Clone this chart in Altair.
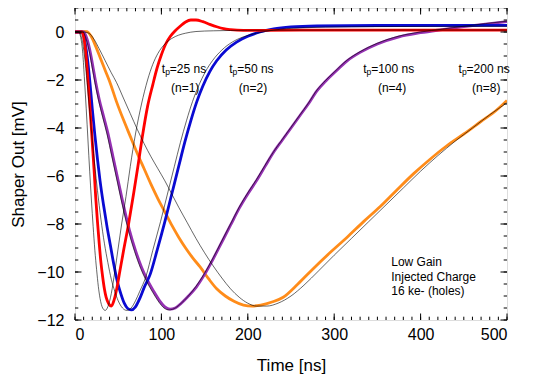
import altair as alt
import pandas as pd

# ---------------- data ----------------
# measured curves (thick, coloured)
RED_T = [0, 8, 10, 12, 14, 16, 18, 20, 22, 24, 26, 28, 30, 32, 34, 36, 39, 42, 45, 48, 52, 56, 62, 68, 73, 78, 84, 90, 95, 100, 105, 110, 116, 122, 128, 134, 140, 148, 156, 164, 172, 180, 195, 220, 300, 400, 500]
RED_V = [0, 0, -0.2, -0.7, -1.5, -2.5, -3.5, -4.6, -5.7, -6.9, -7.9, -8.8, -9.6, -10.2, -10.7, -11.05, -11.32, -11.42, -11.2, -10.75, -9.95, -9.15, -8.0, -6.7, -5.55, -4.35, -3.1, -2.2, -1.5, -0.95, -0.5, -0.2, 0.05, 0.25, 0.42, 0.5, 0.5, 0.43, 0.32, 0.22, 0.14, 0.1, 0.07, 0.07, 0.08, 0.08, 0.08]

BLUE_T = [0, 8, 11, 14, 17, 20, 23, 26, 29, 33, 37, 41, 45, 49, 53, 57, 61, 65, 70, 75, 80, 87, 95, 104, 112, 120, 127, 134, 141, 148, 156, 164, 175, 187, 200, 214, 230, 250, 280, 350, 500]
BLUE_V = [0, 0, -0.3, -1.0, -2.0, -3.2, -4.3, -5.3, -6.2, -7.2, -8.1, -8.9, -9.7, -10.4, -10.9, -11.3, -11.52, -11.58, -11.45, -11.1, -10.65, -10.1, -9.1, -7.9, -6.75, -5.6, -4.6, -3.7, -2.9, -2.25, -1.65, -1.2, -0.75, -0.42, -0.18, 0.0, 0.13, 0.21, 0.25, 0.27, 0.28]

PURPLE_T = [0, 10, 14, 18, 21, 24, 28, 33, 38, 44, 50, 56, 63, 70, 77, 84, 91, 98, 104, 110, 116, 123, 130, 140, 150, 160, 170, 180, 190, 200, 210, 220, 230, 240, 250, 260, 270, 280, 290, 300, 315, 330, 350, 375, 400, 425, 450, 475, 500]
PURPLE_V = [0, 0, -0.3, -0.9, -1.5, -2.1, -2.8, -3.5, -4.2, -5.2, -6.2, -7.2, -8.25, -9.1, -9.8, -10.35, -10.8, -11.2, -11.45, -11.55, -11.5, -11.3, -11.05, -10.65, -10.1, -9.45, -8.75, -8.05, -7.35, -6.75, -6.2, -5.6, -5.0, -4.5, -4.0, -3.5, -3.0, -2.45, -2.05, -1.7, -1.2, -0.85, -0.5, -0.2, -0.03, 0.1, 0.22, 0.33, 0.43]

ORANGE_T = [0, 8, 14, 19, 24, 30, 35, 40, 48, 56, 64, 72, 80, 88, 96, 104, 112, 120, 128, 136, 145, 155, 164, 174, 184, 195, 205, 215, 228, 241, 258, 276, 295, 315, 334, 353, 372, 392, 411, 430, 450, 469, 488, 500]
ORANGE_V = [0, 0.03, 0.02, -0.2, -0.6, -1.15, -1.6, -2.05, -2.9, -3.65, -4.35, -5.05, -5.7, -6.35, -6.95, -7.5, -8.05, -8.55, -9.0, -9.4, -9.8, -10.3, -10.7, -11.0, -11.22, -11.38, -11.42, -11.38, -11.25, -11.05, -10.5, -9.85, -9.2, -8.55, -7.9, -7.28, -6.6, -5.9, -5.3, -4.75, -4.25, -3.75, -3.25, -2.85]

# simulated curves (thin, black)
SIM25_T = [0, 4, 7, 9, 11, 13, 15, 17, 19, 21, 23, 25, 27, 29, 32, 35, 38, 42, 46, 50, 54, 59, 64, 70, 77, 84, 90, 96, 104, 112, 120, 128, 140, 160, 200, 300, 500]
SIM25_V = [0, 0, -0.3, -0.9, -2.0, -3.2, -4.5, -5.8, -7.0, -8.1, -9.1, -9.9, -10.6, -11.1, -11.5, -11.6, -11.45, -10.9, -10.0, -9.0, -8.0, -6.86, -5.6, -4.25, -3.0, -2.0, -1.35, -0.89, -0.5, -0.27, -0.13, -0.05, 0.02, 0.05, 0.07, 0.08, 0.08]

SIM50_T = [0, 5, 8, 11, 14, 17, 20, 23, 26, 30, 34, 38, 42, 46, 50, 55, 60, 65, 70, 75, 82, 90, 99, 107, 115, 122, 129, 136, 143, 151, 159, 170, 182, 195, 210, 230, 260, 320, 500]
SIM50_V = [0, 0, -0.3, -1.0, -2.1, -3.3, -4.5, -5.6, -6.6, -7.8, -8.8, -9.6, -10.3, -10.8, -11.2, -11.5, -11.6, -11.5, -11.2, -10.8, -10.2, -9.1, -7.9, -6.75, -5.6, -4.6, -3.7, -2.9, -2.25, -1.65, -1.2, -0.75, -0.42, -0.2, -0.05, 0.08, 0.17, 0.22, 0.24]

SIM100_T = [0, 9, 13, 17, 20, 23, 27, 32, 37, 43, 49, 55, 62, 69, 76, 83, 90, 97, 103, 109, 116, 123, 130, 140, 150, 160, 170, 180, 190, 200, 210, 220, 230, 240, 250, 260, 270, 280, 290, 300, 315, 330, 350, 375, 400, 425, 450, 475, 500]
SIM100_V = [0, 0, -0.3, -0.9, -1.5, -2.1, -2.8, -3.55, -4.25, -5.25, -6.25, -7.25, -8.3, -9.15, -9.85, -10.4, -10.85, -11.25, -11.5, -11.58, -11.5, -11.3, -11.05, -10.6, -10.05, -9.4, -8.7, -8.0, -7.3, -6.7, -6.15, -5.55, -4.98, -4.47, -3.97, -3.47, -2.97, -2.42, -2.02, -1.67, -1.17, -0.82, -0.47, -0.17, 0.0, 0.12, 0.24, 0.35, 0.45]

SIM200_T = [0, 10, 16, 22, 28, 35, 42, 48, 56, 64, 72, 80, 88, 96, 104, 112, 120, 130, 140, 150, 160, 170, 180, 190, 200, 210, 222, 235, 250, 265, 282, 300, 320, 340, 360, 380, 400, 420, 440, 460, 480, 500]
SIM200_V = [0, 0, -0.05, -0.3, -0.7, -1.2, -1.7, -2.1, -2.75, -3.4, -4.05, -4.65, -5.2, -5.7, -6.2, -6.75, -7.3, -7.95, -8.6, -9.2, -9.75, -10.25, -10.7, -11.05, -11.3, -11.42, -11.42, -11.3, -11.0, -10.55, -9.95, -9.3, -8.6, -7.9, -7.2, -6.5, -5.8, -5.15, -4.55, -4.0, -3.45, -2.95]

# annotations
TP_VALUES = ["=25 ns", "=50 ns", "=100 ns", "=200 ns"]
TP_X = [100.5, 178.5, 333.5, 444.0]
TP_Y = [-1.54, -1.54, -1.54, -1.54]
N_LABELS = ["(n=1)", "(n=2)", "(n=4)", "(n=8)"]
N_X = [127.5, 206.0, 367.0, 476.0]
N_Y = [-2.35, -2.35, -2.35, -2.35]
NOTE_LINES = ["Low Gain", "Injected Charge", "16 ke- (holes)"]
NOTE_X = [366, 366, 366]
NOTE_Y = [-9.6, -10.2, -10.78]

X_MAJOR = [0, 100, 200, 300, 400, 500]
Y_MAJOR = [-12, -10, -8, -6, -4, -2, 0]
X_MINOR = list(range(0, 501, 10))
Y_MINOR = [v / 2 for v in range(-24, 3)]

# ---------------- chart ----------------
W, H = 432, 312
FONT = "Liberation Sans"
xs = alt.Scale(domain=[0, 500], nice=False)
ys = alt.Scale(domain=[-12, 1], nice=False)

xaxis = alt.Axis(values=X_MAJOR, ticks=False, domain=False, grid=False, labelFontSize=16,
                 labelFont=FONT, labelColor="black", labelPadding=6, title="Time [ns]",
                 titleFont=FONT, titleFontSize=17, titleFontWeight="normal", titleColor="black",
                 titleX=W / 2, titleY=45, titleBaseline="middle")
yaxis = alt.Axis(values=Y_MAJOR, ticks=False, domain=False, grid=False, labelFontSize=16,
                 labelFont=FONT, labelColor="black", labelPadding=11, title="Shaper Out [mV]",
                 titleFont=FONT, titleFontSize=17, titleFontWeight="normal", titleColor="black",
                 titleX=-57, titleY=H / 2, titleBaseline="middle", titleAngle=-90, titleAlign="center")

X = alt.X("t:Q", scale=xs, axis=xaxis)
Y = alt.Y("v:Q", scale=ys, axis=yaxis)

measured = [
    ("orange", ORANGE_T, ORANGE_V, "#ff8c1a"),
    ("purple", PURPLE_T, PURPLE_V, "#9632b4"),
    ("blue", BLUE_T, BLUE_V, "#0a0ad2"),
    ("red", RED_T, RED_V, "#ff0000"),
]
sims = [("s25", SIM25_T, SIM25_V), ("s50", SIM50_T, SIM50_V),
        ("s100", SIM100_T, SIM100_V), ("s200", SIM200_T, SIM200_V)]

layers = []
for name, t, v, col in measured:
    df = pd.DataFrame({"t": t, "v": v})
    layers.append(alt.Chart(df).mark_line(color=col, strokeWidth=2.8, interpolate="monotone", clip=True)
                  .encode(x=X, y=Y))

for name, t, v in sims:
    df = pd.DataFrame({"t": t, "v": v})
    layers.append(alt.Chart(df).mark_line(color="black", strokeWidth=0.6, interpolate="monotone", clip=True)
                  .encode(x=X, y=Y))

# inward ticks on all four sides
xmaj = pd.DataFrame({"t": X_MAJOR})
xmin = pd.DataFrame({"t": X_MINOR})
ymaj = pd.DataFrame({"v": Y_MAJOR})
ymin = pd.DataFrame({"v": Y_MINOR})
tick = dict(color="black", strokeWidth=1)
layers += [
    alt.Chart(xmaj).mark_rule(**tick).encode(x=X, y=alt.value(H), y2=alt.value(H - 6.5)),
    alt.Chart(xmaj).mark_rule(**tick).encode(x=X, y=alt.value(0), y2=alt.value(6.5)),
    alt.Chart(xmin).mark_rule(**tick).encode(x=X, y=alt.value(H), y2=alt.value(H - 3.3)),
    alt.Chart(xmin).mark_rule(**tick).encode(x=X, y=alt.value(0), y2=alt.value(3.3)),
    alt.Chart(ymaj).mark_rule(**tick).encode(y=Y, x=alt.value(0), x2=alt.value(6.5)),
    alt.Chart(ymaj).mark_rule(**tick).encode(y=Y, x=alt.value(W), x2=alt.value(W - 6.5)),
    alt.Chart(ymin).mark_rule(**tick).encode(y=Y, x=alt.value(0), x2=alt.value(3.3)),
    alt.Chart(ymin).mark_rule(**tick).encode(y=Y, x=alt.value(W), x2=alt.value(W - 3.3)),
]

# annotations
tp = pd.DataFrame({"t": TP_X, "v": TP_Y, "txt": TP_VALUES})
nn = pd.DataFrame({"t": N_X, "v": N_Y, "txt": N_LABELS})
note = pd.DataFrame({"t": NOTE_X, "v": NOTE_Y, "txt": NOTE_LINES})
tfont = dict(font=FONT, fontSize=12, color="black", baseline="middle")
layers += [
    alt.Chart(tp).mark_text(align="left", text="t", **tfont).encode(x=X, y=Y),
    alt.Chart(tp).mark_text(align="left", text="p", font=FONT, fontSize=8.5, color="black",
                            baseline="middle", dx=3.3, dy=3.5).encode(x=X, y=Y),
    alt.Chart(tp).mark_text(align="left", dx=8.0, **tfont).encode(x=X, y=Y, text="txt:N"),
    alt.Chart(nn).mark_text(align="center", **tfont).encode(x=X, y=Y, text="txt:N"),
    alt.Chart(note).mark_text(align="left", **tfont).encode(x=X, y=Y, text="txt:N"),
]

chart = alt.layer(*layers).properties(
    width=W, height=H,
    autosize=alt.AutoSizeParams(type="none"),
    padding={"left": 67, "top": 0, "right": 19, "bottom": 55},
).configure_view(stroke="black", strokeWidth=1).configure(background="white")

chart.save("out.html", embed_options={"renderer": "svg", "actions": False})
